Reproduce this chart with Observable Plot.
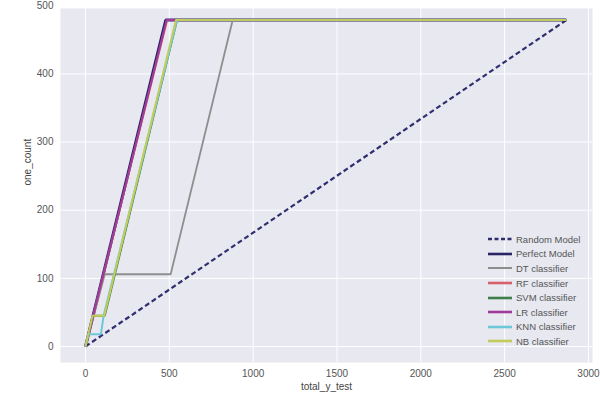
<!DOCTYPE html>
<html>
<head>
<meta charset="utf-8">
<script src="https://cdn.jsdelivr.net/npm/d3@7"></script>
<script src="https://cdn.jsdelivr.net/npm/@observablehq/plot@0.6"></script>
<style>
  html, body { margin: 0; padding: 0; background: #fff; }
  #wrap { position: relative; width: 600px; height: 395px; font-family: "Liberation Sans", Arial, sans-serif; }
  #legend { position: absolute; left: 487px; top: 232px; font-size: 9.5px; color: #555; }
  #legend .row { display: flex; align-items: center; height: 14.6px; }
  #legend svg { margin-right: 3px; }
</style>
</head>
<body>
<div id="wrap"></div>
<script>
// ---- data ----
const models = ["Random Model","Perfect Model","DT classifier","RF classifier","SVM classifier","LR classifier","KNN classifier","NB classifier"];
const colors = ["#2f2f70","#2a2466","#8e8e8e","#d6606c","#3f7f4c","#a03a9c","#6cc8d8","#c2cc5a"];
const widths = [2.2, 3, 1.8, 2, 2, 2, 2, 2];

const randomX = [0, 2868];           const randomY = [0, 479];
const perfectX = [0, 479, 2868];     const perfectY = [0, 479, 479];
const dtX = [0, 115, 508, 878, 2868]; const dtY = [0, 106, 106, 479, 479];
const rfX = [0, 487, 2868];          const rfY = [0, 479, 479];
const svmX = [0, 45, 115, 546, 2868]; const svmY = [0, 45, 45, 479, 479];
const lrX = [0, 484, 2868];          const lrY = [0, 479, 479];
const knnX = [0, 16, 92, 108, 546, 2868]; const knnY = [0, 18, 18, 45, 479, 479];
const nbX = [0, 42, 112, 540, 2868];  const nbY = [0, 45, 45, 479, 479];

const xTicks = [0, 500, 1000, 1500, 2000, 2500, 3000];
const yTicks = [0, 100, 200, 300, 400, 500];
const xLabel = "total_y_test";
const yLabel = "one_count";

const seriesX = [randomX, perfectX, dtX, rfX, svmX, lrX, knnX, nbX];
const seriesY = [randomY, perfectY, dtY, rfY, svmY, lrY, knnY, nbY];

const series = models.map((m, i) => seriesX[i].map((x, j) => ({model: m, x, y: seriesY[i][j]})));

const lineMarks = series.map((d, i) => Plot.line(d, {
  x: "x", y: "y", stroke: colors[i], strokeWidth: widths[i],
  strokeDasharray: i === 0 ? "5,3" : null, strokeLinejoin: "miter", strokeLinecap: "butt"
}));

const fmt = d3.format("d");

const chart = Plot.plot({
  width: 600, height: 395,
  marginLeft: 60, marginRight: 8, marginTop: 8, marginBottom: 33,
  style: {fontFamily: "Liberation Sans, Arial, sans-serif", fontSize: "10px", color: "#555", background: "transparent", overflow: "visible"},
  x: {domain: [-149, 3024]},
  y: {domain: [-23.5, 496]},
  marks: [
    Plot.frame({fill: "#e7e8f0", stroke: null}),
    Plot.gridX(xTicks, {stroke: "#fff", strokeOpacity: 1, strokeWidth: 1}),
    Plot.gridY(yTicks.filter(v => v < 496), {stroke: "#fff", strokeOpacity: 1, strokeWidth: 1}),
    Plot.axisX(xTicks, {tickSize: 0, tickPadding: 7, label: null, fill: "#555", tickFormat: fmt}),
    Plot.axisY(yTicks, {tickSize: 0, tickPadding: 7, label: null, fill: "#555", tickFormat: fmt}),
    Plot.text([xLabel], {frameAnchor: "bottom", dy: 27, fill: "#444", fontSize: 10}),
    Plot.text([yLabel], {frameAnchor: "left", dx: -33, rotate: -90, fill: "#444", fontSize: 10}),
    ...lineMarks
  ]
});

const wrap = document.getElementById("wrap");
wrap.appendChild(chart);

const legend = document.createElement("div");
legend.id = "legend";
models.forEach((m, i) => {
  const row = document.createElement("div");
  row.className = "row";
  const dash = i === 0 ? 'stroke-dasharray="4,2.5"' : "";
  row.innerHTML = `<svg width="26" height="8"><line x1="1" y1="4" x2="25" y2="4" stroke="${colors[i]}" stroke-width="${i === 2 ? 2 : 2.6}" ${dash}/></svg><span>${m}</span>`;
  legend.appendChild(row);
});
wrap.appendChild(legend);
</script>
</body>
</html>
